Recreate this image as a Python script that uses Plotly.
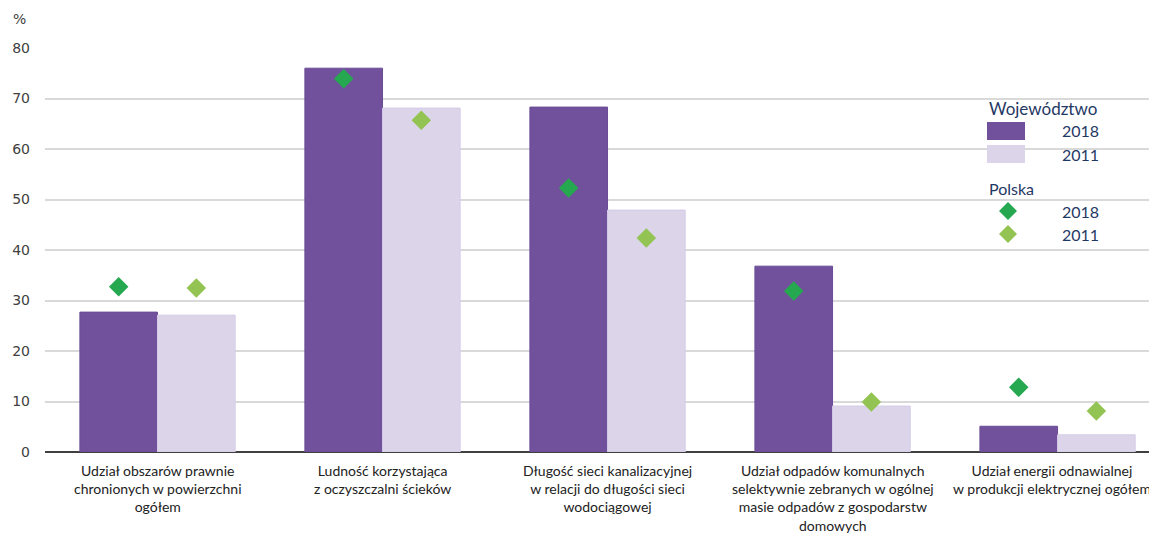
import plotly.graph_objects as go

categories = [
    "Udział obszarów prawnie<br>chronionych w powierzchni<br>ogółem",
    "Ludność korzystająca<br>z oczyszczalni ścieków",
    "Długość sieci kanalizacyjnej<br>w relacji do długości sieci<br>wodociągowej",
    "Udział odpadów komunalnych<br>selektywnie zebranych w ogólnej<br>masie odpadów z gospodarstw<br>domowych",
    "Udział energii odnawialnej<br>w produkcji elektrycznej ogółem",
]
woj_2018 = [27.7, 76.0, 68.3, 36.8, 5.1]
woj_2011 = [27.1, 68.1, 47.9, 9.1, 3.4]
pol_2018 = [32.7, 73.9, 52.3, 31.9, 12.8]
pol_2011 = [32.5, 65.7, 42.4, 9.9, 8.1]
y_ticks = [0, 10, 20, 30, 40, 50, 60, 70, 80]

DARK = "#71519C"
LIGHT = "#DCD5EA"
G1 = "#25A84F"
G2 = "#93C353"
NAVY = "#1F3864"
FONT = "Lato"

idx = list(range(len(categories)))
bw = 0.345
fig = go.Figure()
fig.add_bar(x=[i - bw / 2 for i in idx], y=woj_2018, width=bw, marker_color=DARK,
            marker_line=dict(color="#6A4C96", width=1), name="Województwo 2018", showlegend=False)
fig.add_bar(x=[i + bw / 2 for i in idx], y=woj_2011, width=bw, marker_color=LIGHT,
            marker_line=dict(color="#D3CAE6", width=1), name="Województwo 2011", showlegend=False)
fig.add_scatter(x=[i - bw / 2 for i in idx], y=pol_2018, mode="markers",
                marker=dict(symbol="diamond", size=15, color=G1), name="Polska 2018", showlegend=False)
fig.add_scatter(x=[i + bw / 2 for i in idx], y=pol_2011, mode="markers",
                marker=dict(symbol="diamond", size=15, color=G2), name="Polska 2011", showlegend=False)

OFF = 8  # page body margin
W, H = 1157 - OFF, 533 - OFF
ml, mr, mt, mb = 45 - OFF, 0, 48 - OFF, 81
pw, ph = W - ml - mr, H - mt - mb

def px(x):
    return (x - OFF - ml) / pw

def py(y):
    return 1 - (y - OFF - mt) / ph

shapes = []
annotations = []
# category labels
for i, lab in zip(idx, categories):
    annotations.append(dict(x=i, y=py(460), xref="x", yref="paper", text=lab, showarrow=False,
                            xanchor="center", yanchor="top", align="center",
                            xshift=-6 if i == idx[-1] else 0,
                            font=dict(size=14, color="#222222", family=FONT)))
# legend
annotations.append(dict(x=px(987), y=py(108), xref="paper", yref="paper", text="Województwo",
                        showarrow=False, xanchor="left", yanchor="middle",
                        font=dict(size=17, color=NAVY, family=FONT)))
for yc, col in [(131, DARK), (154, LIGHT)]:
    shapes.append(dict(type="rect", xref="paper", yref="paper", x0=px(987), x1=px(1025),
                       y0=py(yc - 9), y1=py(yc + 9), fillcolor=col, line=dict(width=0)))
for yc, t in [(131, "2018"), (154, "2011")]:
    annotations.append(dict(x=px(1101), y=py(yc), xref="paper", yref="paper", text=t,
                            showarrow=False, xanchor="right", yanchor="middle",
                            font=dict(size=16, color=NAVY, family=FONT)))
annotations.append(dict(x=px(987), y=py(188), xref="paper", yref="paper", text="Polska",
                        showarrow=False, xanchor="left", yanchor="middle",
                        font=dict(size=16, color=NAVY, family=FONT)))
for yc, col, t in [(211, G1, "2018"), (234, G2, "2011")]:
    shapes.append(dict(type="path", xref="paper", yref="paper",
                       path=f"M {px(999)} {py(yc)} L {px(1008)} {py(yc - 9)} L {px(1017)} {py(yc)} L {px(1008)} {py(yc + 9)} Z",
                       fillcolor=col, line=dict(width=0)))
    annotations.append(dict(x=px(1101), y=py(yc), xref="paper", yref="paper", text=t,
                            showarrow=False, xanchor="right", yanchor="middle",
                            font=dict(size=16, color=NAVY, family=FONT)))
annotations.append(dict(x=px(19), y=py(19), xref="paper", yref="paper", text="%",
                        showarrow=False, xanchor="center", yanchor="middle",
                        font=dict(size=14, color="#404040", family="DejaVu Sans")))

fig.update_layout(
    width=W, height=H,
    margin=dict(l=ml, r=mr, t=mt, b=mb),
    plot_bgcolor="white", paper_bgcolor="white",
    barmode="overlay",
    showlegend=False,
    shapes=shapes, annotations=annotations,
    xaxis=dict(range=[-0.5, 4.442], showticklabels=False, showgrid=False,
               zeroline=False, showline=False, ticks="", fixedrange=True),
    yaxis=dict(range=[0, 80], tickvals=y_ticks, showgrid=True, gridcolor="#D9D9D9", gridwidth=1.5,
               zeroline=True, zerolinecolor="#404040", zerolinewidth=1.5, showline=False,
               ticklabelstandoff=14,
               tickfont=dict(size=14, color="#404040", family="DejaVu Sans"), fixedrange=True),
)
fig.write_html("out.html")
